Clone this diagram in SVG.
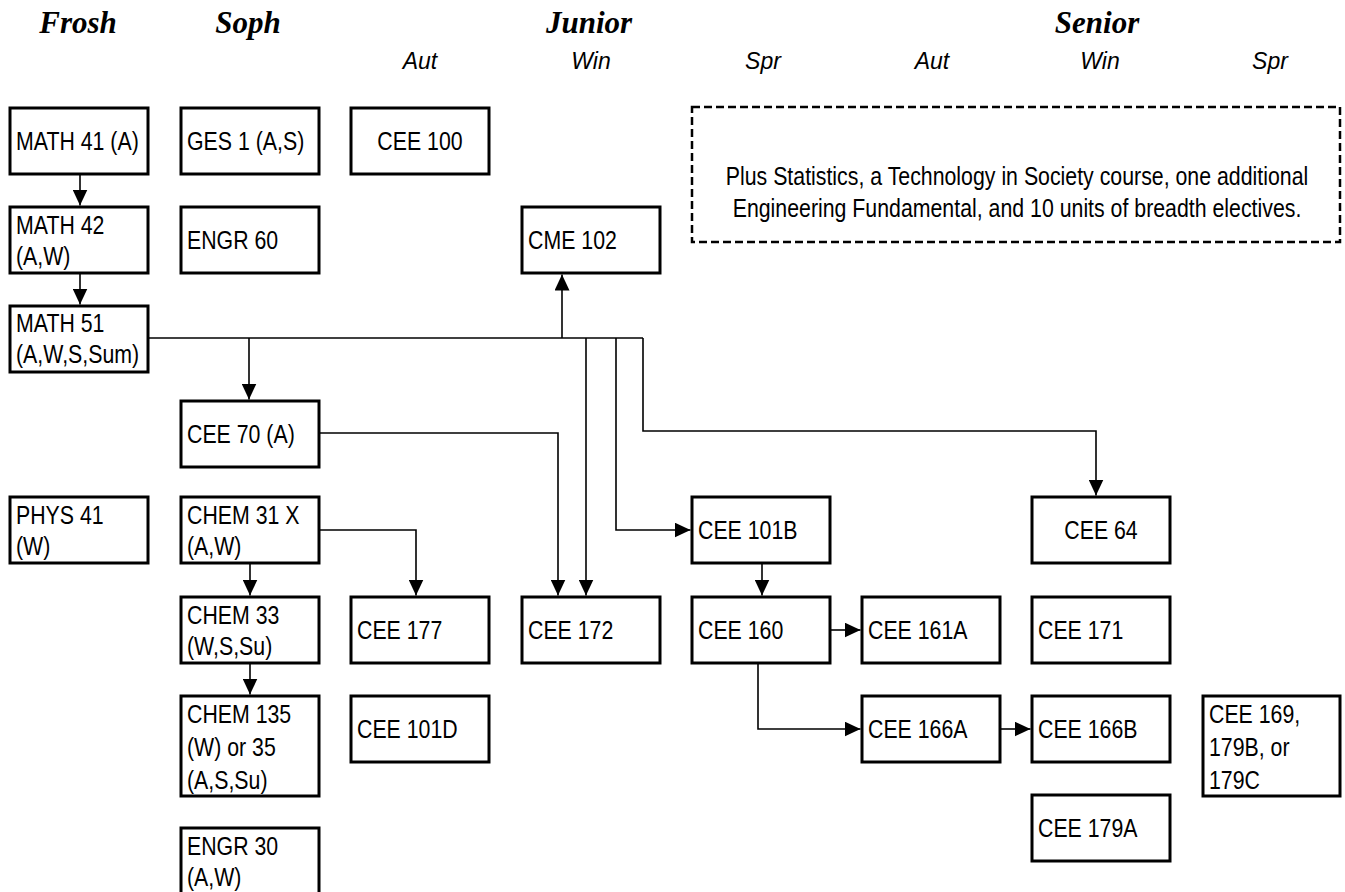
<svg xmlns="http://www.w3.org/2000/svg" width="1345" height="892" viewBox="0 0 1345 892">
<style>
.bg{fill:#ffffff}
.box rect{fill:#ffffff;stroke:#000;stroke-width:3}
.t{font-family:"Liberation Sans",Arial,sans-serif;font-size:26px;fill:#000}
.c{text-anchor:middle}
.hd{font-family:"Liberation Serif","Times New Roman",serif;font-size:31px;font-weight:bold;font-style:italic;text-anchor:middle;fill:#000}
.sh{font-family:"Liberation Sans",Arial,sans-serif;font-size:23px;font-style:italic;text-anchor:middle;fill:#000}
.dash{fill:#fff;stroke:#000;stroke-width:2.5;stroke-dasharray:8 4}
.conn path{fill:none;stroke:#000;stroke-width:1.6}
.conn path.a{marker-end:url(#ah)}
</style>
<defs>
<marker id="ah" viewBox="0 0 16 15" refX="16" refY="7.5" markerWidth="16" markerHeight="15" markerUnits="userSpaceOnUse" orient="auto">
<path d="M0,0 L16,7.5 L0,15 z" fill="#000"/>
</marker>
</defs>
<rect class="bg" x="0" y="0" width="1345" height="892"/>

<g id="headers">
<text class="hd" x="78" y="33">Frosh</text>
<text class="hd" x="248" y="33">Soph</text>
<text class="hd" x="589" y="33">Junior</text>
<text class="hd" x="1097" y="33">Senior</text>
<text class="sh" x="420" y="69">Aut</text>
<text class="sh" x="591" y="69">Win</text>
<text class="sh" x="763" y="69">Spr</text>
<text class="sh" x="932" y="69">Aut</text>
<text class="sh" x="1100" y="69">Win</text>
<text class="sh" x="1270" y="69">Spr</text>
</g>

<g id="note">
<rect class="dash" x="692" y="107" width="648" height="135"/>
<text class="t c" transform="translate(1017,185) scale(0.82,1)">Plus Statistics, a Technology in Society course, one additional</text>
<text class="t c" transform="translate(1017,217) scale(0.82,1)">Engineering Fundamental, and 10 units of breadth electives.</text>
</g>

<g id="connectors" class="conn">
<path class="a" d="M80,174 V205.5"/>
<path class="a" d="M80,273 V304.5"/>
<path d="M149,338 H643"/>
<path class="a" d="M249,338 V399.5"/>
<path class="a" d="M562,338 V274.5"/>
<path class="a" d="M586,338 V595.5"/>
<path class="a" d="M616,338 V530 H690.5"/>
<path class="a" d="M643,338 V431 H1096 V495.5"/>
<path class="a" d="M319,433 H558 V595.5"/>
<path class="a" d="M319,530 H416 V595.5"/>
<path class="a" d="M250,564 V595.5"/>
<path class="a" d="M250,663 V694.5"/>
<path class="a" d="M762,564 V595.5"/>
<path class="a" d="M829,630 H860.5"/>
<path class="a" d="M758,663 V729 H860.5"/>
<path class="a" d="M999,729 H1030.5"/>
</g>

<g id="math41" class="box"><rect x="10" y="108" width="138" height="66"/><text class="t" transform="translate(16,150) scale(0.82,1)">MATH 41 (A)</text></g>
<g id="ges1" class="box"><rect x="181" y="108" width="138" height="66"/><text class="t" transform="translate(187,150) scale(0.82,1)">GES 1 (A,S)</text></g>
<g id="cee100" class="box"><rect x="351" y="108" width="138" height="66"/><text class="t c" transform="translate(420,150) scale(0.82,1)">CEE 100</text></g>

<g id="math42" class="box"><rect x="10" y="207" width="138" height="66"/><text class="t" transform="translate(16,234) scale(0.82,1)">MATH 42</text><text class="t" transform="translate(16,265) scale(0.82,1)">(A,W)</text></g>
<g id="engr60" class="box"><rect x="181" y="207" width="138" height="66"/><text class="t" transform="translate(187,249) scale(0.82,1)">ENGR 60</text></g>
<g id="cme102" class="box"><rect x="522" y="207" width="138" height="66"/><text class="t" transform="translate(528,249) scale(0.82,1)">CME 102</text></g>

<g id="math51" class="box"><rect x="10" y="306" width="138" height="66"/><text class="t" transform="translate(16,332) scale(0.82,1)">MATH 51</text><text class="t" transform="translate(16,363) scale(0.82,1)">(A,W,S,Sum)</text></g>

<g id="cee70" class="box"><rect x="181" y="401" width="138" height="66"/><text class="t" transform="translate(187,443) scale(0.82,1)">CEE 70 (A)</text></g>

<g id="phys41" class="box"><rect x="10" y="497" width="138" height="66"/><text class="t" transform="translate(16,524) scale(0.82,1)">PHYS 41</text><text class="t" transform="translate(16,555) scale(0.82,1)">(W)</text></g>
<g id="chem31x" class="box"><rect x="181" y="497" width="138" height="66"/><text class="t" transform="translate(187,524) scale(0.82,1)">CHEM 31 X</text><text class="t" transform="translate(187,555) scale(0.82,1)">(A,W)</text></g>
<g id="cee101b" class="box"><rect x="692" y="497" width="138" height="66"/><text class="t" transform="translate(698,539) scale(0.82,1)">CEE 101B</text></g>
<g id="cee64" class="box"><rect x="1032" y="497" width="138" height="66"/><text class="t c" transform="translate(1101,539) scale(0.82,1)">CEE 64</text></g>

<g id="chem33" class="box"><rect x="181" y="597" width="138" height="66"/><text class="t" transform="translate(187,624) scale(0.82,1)">CHEM 33</text><text class="t" transform="translate(187,655) scale(0.82,1)">(W,S,Su)</text></g>
<g id="cee177" class="box"><rect x="351" y="597" width="138" height="66"/><text class="t" transform="translate(357,639) scale(0.82,1)">CEE 177</text></g>
<g id="cee172" class="box"><rect x="522" y="597" width="138" height="66"/><text class="t" transform="translate(528,639) scale(0.82,1)">CEE 172</text></g>
<g id="cee160" class="box"><rect x="692" y="597" width="138" height="66"/><text class="t" transform="translate(698,639) scale(0.82,1)">CEE 160</text></g>
<g id="cee161a" class="box"><rect x="862" y="597" width="138" height="66"/><text class="t" transform="translate(868,639) scale(0.82,1)">CEE 161A</text></g>
<g id="cee171" class="box"><rect x="1032" y="597" width="138" height="66"/><text class="t" transform="translate(1038,639) scale(0.82,1)">CEE 171</text></g>

<g id="chem135" class="box"><rect x="181" y="696" width="138" height="100"/><text class="t" transform="translate(187,723) scale(0.82,1)">CHEM 135</text><text class="t" transform="translate(187,756) scale(0.82,1)">(W) or 35</text><text class="t" transform="translate(187,789) scale(0.82,1)">(A,S,Su)</text></g>
<g id="cee101d" class="box"><rect x="351" y="696" width="138" height="66"/><text class="t" transform="translate(357,738) scale(0.82,1)">CEE 101D</text></g>
<g id="cee166a" class="box"><rect x="862" y="696" width="138" height="66"/><text class="t" transform="translate(868,738) scale(0.82,1)">CEE 166A</text></g>
<g id="cee166b" class="box"><rect x="1032" y="696" width="138" height="66"/><text class="t" transform="translate(1038,738) scale(0.82,1)">CEE 166B</text></g>
<g id="cee169" class="box"><rect x="1203" y="696" width="137" height="100"/><text class="t" transform="translate(1209,723) scale(0.82,1)">CEE 169,</text><text class="t" transform="translate(1209,756) scale(0.82,1)">179B, or</text><text class="t" transform="translate(1209,789) scale(0.82,1)">179C</text></g>

<g id="cee179a" class="box"><rect x="1032" y="795" width="138" height="66"/><text class="t" transform="translate(1038,837) scale(0.82,1)">CEE 179A</text></g>
<g id="engr30" class="box"><rect x="181" y="828" width="138" height="66"/><text class="t" transform="translate(187,855) scale(0.82,1)">ENGR 30</text><text class="t" transform="translate(187,886) scale(0.82,1)">(A,W)</text></g>
</svg>
